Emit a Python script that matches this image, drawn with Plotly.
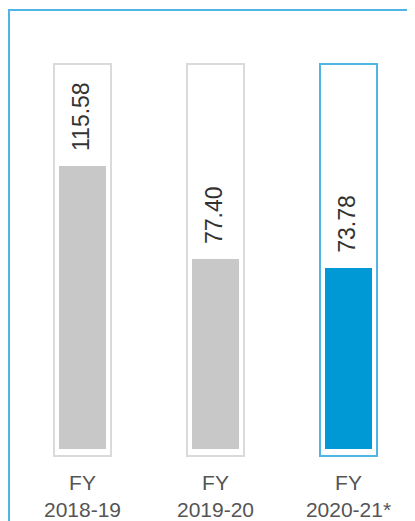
import plotly.graph_objects as go

# ---- data ----
categories = ["FY 2018-19", "FY 2019-20", "FY 2020-21*"]
tick_labels = ["FY<br>2018-19", "FY<br>2019-20", "FY<br>2020-21*"]
values = [115.58, 77.40, 73.78]
value_labels = ["115.58", "77.40", "73.78"]

# ---- styles ----
fill_colors = ["#c8c8c8", "#c8c8c8", "#0099d6"]
frame_colors = ["#dadada", "#dadada", "#4fb5e4"]
FONT = "Liberation Sans, Arial, sans-serif"
# page body has an 8px margin, so the figure is sized to the remaining window
W, H = 407, 513
ML, MR, MT, MB = 8, 0, 12, 61
FRAME_BASE = -2.86
FRAME_TOP = 157.2
Y_RANGE = [-4.49, 175.2]

fig = go.Figure()

# decorative outline frames behind each bar
fig.add_trace(go.Bar(
    x=categories,
    y=[FRAME_TOP - FRAME_BASE] * len(categories),
    base=[FRAME_BASE] * len(categories),
    width=0.43,
    marker=dict(color="rgba(0,0,0,0)", line=dict(color=frame_colors, width=2)),
    hoverinfo="skip",
    showlegend=False,
))

# value bars
fig.add_trace(go.Bar(
    x=categories,
    y=values,
    width=0.346,
    marker=dict(color=fill_colors, line=dict(width=0)),
    showlegend=False,
))

# rotated value labels
for c, v, t in zip(categories, values, value_labels):
    fig.add_annotation(
        x=c, y=v, text=t, textangle=-90,
        showarrow=False, xanchor="center", yanchor="bottom",
        yshift=13, xshift=-1,
        font=dict(family=FONT, size=23, color="#333333"),
    )

# outer frame (top and left lines)
plot_w = W - ML - MR
plot_h = H - MT - MB
px = lambda p: (p - ML) / plot_w
py = lambda p: (H - MB - p) / plot_h
frame_line = dict(color="#4fb5e4", width=2)
fig.add_shape(type="line", xref="paper", yref="paper",
              x0=px(0), x1=px(W + 2), y0=py(2), y1=py(2), line=frame_line)
fig.add_shape(type="line", xref="paper", yref="paper",
              x0=px(1), x1=px(1), y0=py(1), y1=py(H + 2), line=frame_line)

fig.update_layout(
    width=W, height=H,
    margin=dict(l=ML, r=MR, t=MT, b=MB),
    paper_bgcolor="white", plot_bgcolor="white",
    barmode="overlay",
    bargap=0,
    font=dict(family=FONT),
    xaxis=dict(
        range=[-0.5, 2.5],
        tickmode="array", tickvals=categories, ticktext=tick_labels,
        tickfont=dict(family=FONT, size=21, color="#555555"),
        showgrid=False, zeroline=False, showline=False, ticks="",
        ticklabelstandoff=8,
    ),
    yaxis=dict(range=Y_RANGE, visible=False, showgrid=False, zeroline=False),
)

fig.write_html("out.html")
